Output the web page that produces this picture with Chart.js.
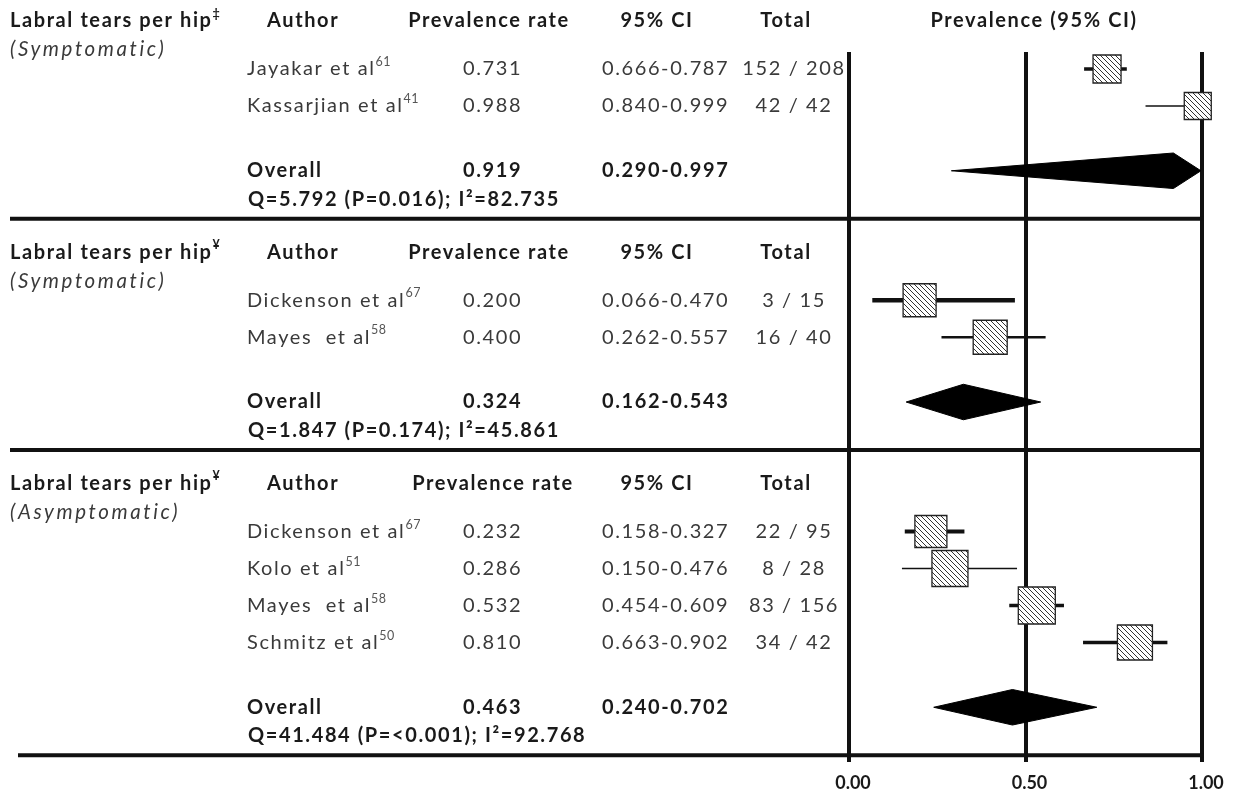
<!DOCTYPE html>
<html><head><meta charset="utf-8">
<script src="https://cdn.jsdelivr.net/npm/chart.js@4.4.1/dist/chart.umd.min.js"></script>
<style>html,body{margin:0;padding:0;background:#fff;}#wrap{width:1234px;height:795px;}</style>
</head><body><div id="wrap"><canvas id="c" width="1234" height="795"></canvas></div>
<script>
// ---------------- data ----------------
const groupTitles = ['Labral tears per hip', 'Labral tears per hip', 'Labral tears per hip'];
const groupMarks = ['\u2021', '\u00A5', '\u00A5'];
const groupSubtitles = ['(Symptomatic)', '(Symptomatic)', '(Asymptomatic)'];
const authors = ['Jayakar et al', 'Kassarjian et al', 'Dickenson et al', 'Mayes  et al', 'Dickenson et al', 'Kolo et al', 'Mayes  et al', 'Schmitz et al'];
const refs = ['61', '41', '67', '58', '67', '51', '58', '50'];
const studyGroup = [0, 0, 1, 1, 2, 2, 2, 2];
const prevalence = [0.731, 0.988, 0.200, 0.400, 0.232, 0.286, 0.532, 0.810];
const ciLow = [0.666, 0.840, 0.066, 0.262, 0.158, 0.150, 0.454, 0.663];
const ciHigh = [0.787, 0.999, 0.470, 0.557, 0.327, 0.476, 0.609, 0.902];
const events = [152, 42, 3, 16, 22, 8, 83, 34];
const totals = [208, 42, 15, 40, 95, 28, 156, 42];
const overallRate = [0.919, 0.324, 0.463];
const overallLow = [0.290, 0.162, 0.240];
const overallHigh = [0.997, 0.543, 0.702];
const qStat = [5.792, 1.847, 41.484];
const qP = ['0.016', '0.174', '<0.001'];
const iSquared = [82.735, 45.861, 92.768];
const tickValues = [0, 0.5, 1];
const headers = ['Author', 'Prevalence rate', '95% CI', 'Total'];
const plotTitle = 'Prevalence (95% CI)';

// ---------------- styles / layout ----------------
const ROW = 37;                 // px per study row
const TOP = 52, BOTTOM = 762;   // plot area
const markerSide = [28, 27, 33, 34, 32, 36, 37, 35];
const whiskerWidth = [3.5, 1.5, 4.5, 2.5, 4, 1.5, 3.5, 3.5];
const FONT = 'Lato';
const FS = 20, LS = 1.6;

// row layout (in row units from plot top)
const layout = [];
let yCur = 0.46;
for (let g = 0; g < groupTitles.length; g++) {
  const idx = studyGroup.map((s, i) => s === g ? i : -1).filter(i => i >= 0);
  const L = { header: yCur - 1.3, sub: yCur - 1.3 + 0.78, studies: {} };
  idx.forEach((i, k) => { L.studies[i] = yCur + k; });
  const last = yCur + idx.length - 1;
  L.overall = last + 1.75;
  L.q = L.overall + 0.77;
  L.sep = L.overall + 1.3;
  layout.push(L);
  yCur = L.sep + 2.2;
}
const studyY = prevalence.map((_, i) => layout[studyGroup[i]].studies[i]);

// hatch pattern
const PS = 5;
const pc = document.createElement('canvas'); pc.width = pc.height = PS;
const pctx = pc.getContext('2d');
pctx.fillStyle = '#fff'; pctx.fillRect(0, 0, PS, PS);
pctx.strokeStyle = '#333'; pctx.lineWidth = 1;
pctx.beginPath();
pctx.moveTo(0, 0); pctx.lineTo(PS, PS);
pctx.moveTo(-1, PS - 1); pctx.lineTo(1, PS + 1);
pctx.moveTo(PS - 1, -1); pctx.lineTo(PS + 1, 1);
pctx.stroke();
const canvas = document.getElementById('c');
const hatch = canvas.getContext('2d').createPattern(pc, 'repeat');

// datasets
const datasets = [];
datasets.push({
  label: 'studies',
  data: prevalence.map((p, i) => ({ x: p, y: studyY[i] })),
  pointStyle: 'rect',
  pointRadius: markerSide.map(s => s / 2 / Math.SQRT1_2),
  backgroundColor: hatch,
  borderColor: '#222',
  borderWidth: 1.3,
  showLine: false,
  clip: false,
  order: 0
});
prevalence.forEach((p, i) => {
  datasets.push({
    label: 'ci' + i,
    data: [{ x: ciLow[i], y: studyY[i] }, { x: ciHigh[i], y: studyY[i] }],
    showLine: true, pointRadius: 0, borderColor: '#111', borderWidth: whiskerWidth[i], clip: false, order: 2
  });
});
const DH = 0.48;
overallRate.forEach((r, g) => {
  const y = layout[g].overall;
  datasets.push({
    label: 'overall' + g,
    data: [{ x: overallLow[g], y }, { x: r, y: y - DH }, { x: overallHigh[g], y }, { x: r, y: y + DH }, { x: overallLow[g], y }],
    showLine: true, pointRadius: 0, borderColor: '#000', borderWidth: 1, backgroundColor: '#000', fill: 'shape', tension: 0, clip: false, order: 1
  });
});

function drawText(ctx, s, x, y, o = {}) {
  ctx.save();
  const size = o.size || FS;
  ctx.font = `${o.italic ? 'italic ' : ''}${o.bold ? 'bold ' : ''}${size}px ${FONT}`;
  ctx.fillStyle = o.color || (o.bold ? '#1a1a1a' : '#3a3a3a');
  ctx.textBaseline = 'middle';
  ctx.letterSpacing = (o.ls !== undefined ? o.ls : LS) + 'px';
  const w = ctx.measureText(s).width;
  const x0 = o.align === 'center' ? x - w / 2 : x;
  ctx.fillText(s, x0, y);
  ctx.restore();
  return x0 + w;
}
function sup(ctx, s, x, y, bold) {
  drawText(ctx, s, x + 1, y - 7, { size: 12.5, ls: 0.5, bold: bold, color: bold ? '#1a1a1a' : '#555' });
}

const textPlugin = {
  id: 'forestText',
  afterDraw(chart) {
    const ctx = chart.ctx;
    const ys = chart.scales.y, xs = chart.scales.x;
    const Y = v => ys.getPixelForValue(v);
    // separators
    layout.forEach((L, g) => {
      ctx.save();
      ctx.strokeStyle = '#111'; ctx.lineWidth = 4;
      ctx.beginPath();
      ctx.moveTo(g === 2 ? 18 : 10, Y(L.sep));
      ctx.lineTo(xs.getPixelForValue(1) + 2, Y(L.sep));
      ctx.stroke();
      ctx.restore();
    });
    layout.forEach((L, g) => {
      const hy = Y(L.header);
      const e = drawText(ctx, groupTitles[g], 10, hy, { bold: true });
      sup(ctx, groupMarks[g], e - 1, hy, true);
      drawText(ctx, groupSubtitles[g], 10, Y(L.sub), { italic: true, size: 20.5, ls: 2.6 });
      drawText(ctx, headers[0], 267, hy, { bold: true });
      drawText(ctx, headers[1], g === 2 ? 493 : 489, hy, { bold: true, align: 'center' });
      drawText(ctx, headers[2], 657, hy, { bold: true, align: 'center' });
      drawText(ctx, headers[3], 786, hy, { bold: true, align: 'center' });
      if (g === 0) drawText(ctx, plotTitle, 1034, hy, { bold: true, align: 'center' });
      const oy = Y(L.overall);
      drawText(ctx, 'Overall', 247, oy, { bold: true });
      drawText(ctx, overallRate[g].toFixed(3), 463, oy, { bold: true });
      drawText(ctx, overallLow[g].toFixed(3) + '-' + overallHigh[g].toFixed(3), 602, oy, { bold: true });
      drawText(ctx, `Q=${qStat[g].toFixed(3)} (P=${qP[g]}); I\u00B2=${iSquared[g].toFixed(3)}`, 248, Y(L.q), { bold: true });
    });
    prevalence.forEach((p, i) => {
      const y = Y(studyY[i]);
      const e = drawText(ctx, authors[i], 247, y);
      sup(ctx, refs[i], e - 1, y, false);
      drawText(ctx, p.toFixed(3), 463, y);
      drawText(ctx, ciLow[i].toFixed(3) + '-' + ciHigh[i].toFixed(3), 602, y);
      drawText(ctx, `${events[i]} / ${totals[i]}`, 794, y, { align: 'center' });
    });
  }
};

new Chart(canvas, {
  type: 'scatter',
  data: { datasets },
  options: {
    responsive: false,
    animation: false,
    events: [],
    layout: { padding: { left: 849, right: 32, top: TOP, bottom: 0 } },
    plugins: { legend: { display: false }, tooltip: { enabled: false } },
    scales: {
      x: {
        type: 'linear', min: 0, max: 1,
        afterBuildTicks: s => { s.ticks = tickValues.map(v => ({ value: v })); },
        afterFit: s => { s.height = 795 - BOTTOM; },
        grid: { display: true, drawOnChartArea: true, drawTicks: false, color: '#111', lineWidth: 4 },
        border: { display: false },
        ticks: { padding: 10, labelOffset: 4, color: '#1a1a1a', font: { family: FONT, size: 18, weight: 'bold' }, callback: v => Number(v).toFixed(2) }
      },
      y: {
        type: 'linear', reverse: true, min: 0, max: (BOTTOM - TOP) / ROW, display: false
      }
    }
  },
  plugins: [textPlugin]
});
</script></body></html>
